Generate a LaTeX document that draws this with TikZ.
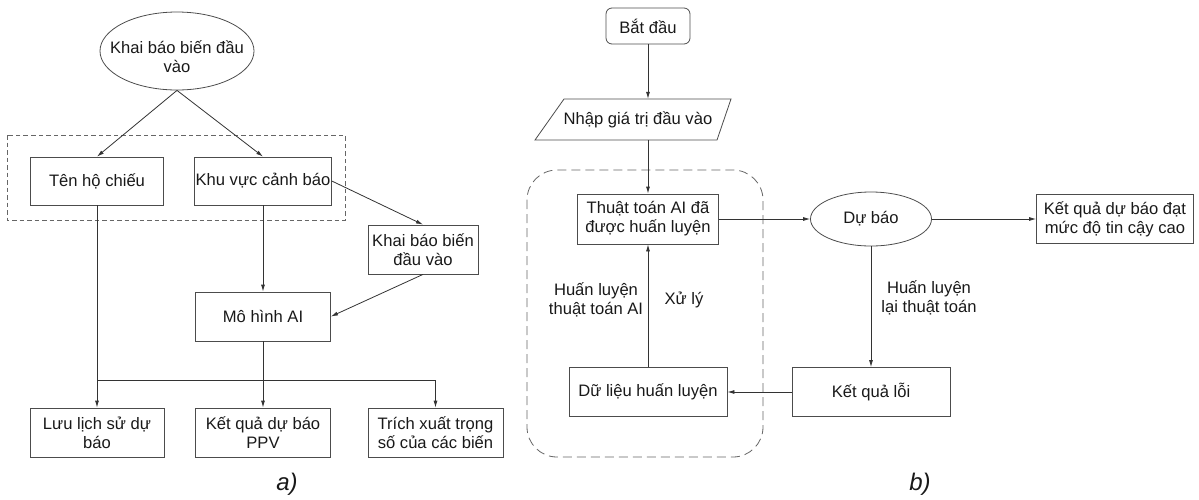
\documentclass[tikz,border=0pt]{standalone}
\usepackage{fontspec}
\setmainfont{Liberation Sans}
\usetikzlibrary{shapes.geometric,arrows.meta}
\begin{document}
\begin{tikzpicture}[x=1pt,y=-1pt,
  every node/.style={font=\fontsize{16.6}{19}\selectfont, text=black!90},
  box/.style={draw=black!70, line width=0.8pt, rectangle, align=center, inner sep=1pt, minimum height=49pt},
  ell/.style={draw=black!70, line width=0.8pt, ellipse, align=center, inner sep=0pt},
  arr/.style={draw=black!80, line width=0.8pt, -{Latex[length=7pt,width=4pt]}},
  ln/.style={draw=black!80, line width=0.8pt},
  lbl/.style={align=center},
  sublabel/.style={font=\fontsize{24}{28}\selectfont\itshape},
  grp/.style={draw=black!60, line width=0.8pt}
]
\useasboundingbox (0,0) rectangle (1199,499);

% ---------- panel a ----------
\node[ell, minimum width=154pt, minimum height=78pt] (e1) at (177,51) {};
\node[lbl] (e1t) at (177,57) {Khai báo biến đầu\\vào};
\node[box, minimum width=133pt, minimum height=48pt] (ten) at (97,181) {Tên hộ chiếu};
\node[box, minimum width=135pt, minimum height=48pt] (khu) at (263,181) {Khu vực cảnh báo};
\node[box, minimum width=110pt] (kb) at (423,249.5) {Khai báo biến\\đầu vào};
\node[box, minimum width=135pt] (mo) at (263,316.5) {Mô hình AI};
\node[box, minimum width=134pt] (luu) at (97,432.5) {Lưu lịch sử dự\\báo};
\node[box, minimum width=135pt] (kq) at (263,432.5) {Kết quả dự báo\\PPV};
\node[box, minimum width=135pt] (tr) at (435.5,432.5) {Trích xuất trọng\\số của các biến};
\draw[grp, dash pattern=on 4.5pt off 3pt] (7,135) rectangle (345,220);
\coordinate (j) at (0,380);
\draw[arr] (e1.south) -- (ten.north);
\draw[arr] (e1.south) -- (khu.north);
\draw[arr] (khu.east) -- (kb.north);
\draw[arr] (khu.south) -- (mo.north);
\draw[arr] (kb.south) -- (mo.east);
\draw[arr] (ten.south) -- (luu.north);
\draw[arr] (mo.south) -- (kq.north);
\draw[ln] (ten.south |- j) -- (tr.north |- j);
\draw[arr] (tr.north |- j) -- (tr.north);
\node[sublabel] (capa) at (287,484) {a)};

% ---------- panel b ----------
\node[box, rounded corners=6pt, minimum width=84pt, minimum height=36pt] (start) at (648,26) {Bắt đầu};
\draw[draw=black!70, line width=0.8pt] (564,99) -- (731,99) -- (717,140) -- (535,140) -- cycle;
\node[minimum height=41pt, inner sep=0pt] (inp) at (638,119.5) {Nhập giá trị đầu vào};
\node[box, minimum width=141pt, minimum height=50pt] (thuat) at (648,219) {Thuật toán AI đã\\được huấn luyện};
\node[box, minimum width=158pt] (du) at (648,392) {Dữ liệu huấn luyện};
\node[ell, minimum width=121pt, minimum height=54pt] (dub) at (871,219) {Dự báo};
\node[box, minimum width=157pt] (kqd) at (1115,219) {Kết quả dự báo đạt\\mức độ tin cậy cao};
\node[box, minimum width=158pt] (kql) at (871,392) {Kết quả lỗi};
\draw[grp, dash pattern=on 9pt off 5pt, rounded corners=30pt] (527,170) rectangle (763,457);
\draw[arr] (start.south) -- (start.south |- inp.north);
\draw[arr] (start.south |- inp.south) -- (thuat.north);
\draw[arr] (du.north) -- (thuat.south);
\draw[arr] (thuat.east) -- (dub.west);
\draw[arr] (dub.east) -- (kqd.west);
\draw[arr] (dub.south) -- (kql.north);
\draw[arr] (kql.west) -- (du.east);
\node[lbl] (l1) at (596,300) {Huấn luyện\\thuật toán AI};
\node (l2) at (684,300) {Xử lý};
\node[lbl] (l3) at (929,298) {Huấn luyện\\lại thuật toán};
\node[sublabel] (capb) at (920,484) {b)};
\end{tikzpicture}
\end{document}
